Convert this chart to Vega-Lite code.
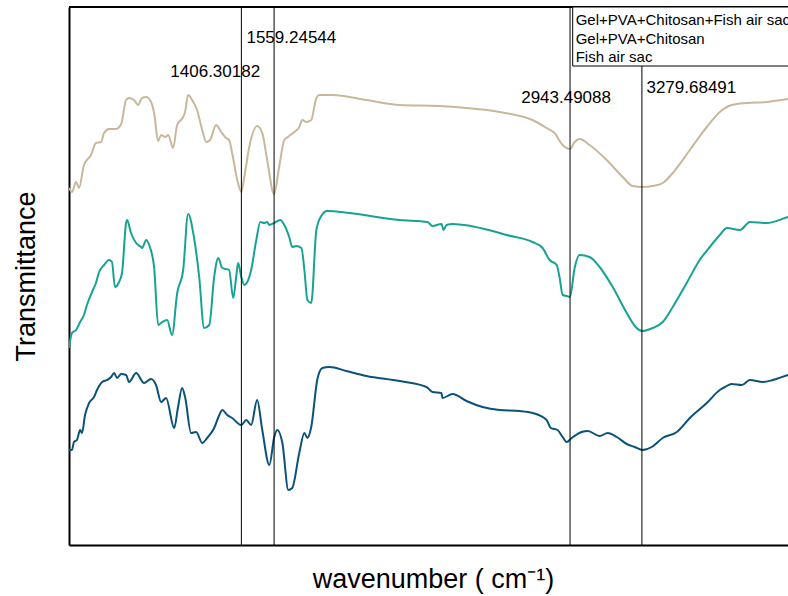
{
  "$schema": "https://vega.github.io/schema/vega-lite/v6.json",
  "width": 719,
  "height": 538,
  "autosize": "none",
  "padding": {"left": 69, "top": 7, "right": 0, "bottom": 51},
  "config": {"view": {"stroke": null}, "font": "Liberation Sans"},
  "datasets": {
    "spectra": [
      {"series":"Gel+PVA+Chitosan+Fish air sac","wn":600,"t":357},{"series":"Gel+PVA+Chitosan+Fish air sac","wn":614,"t":353},{"series":"Gel+PVA+Chitosan+Fish air sac","wn":633,"t":363},{"series":"Gel+PVA+Chitosan+Fish air sac","wn":647,"t":357},{"series":"Gel+PVA+Chitosan+Fish air sac","wn":670,"t":380},{"series":"Gel+PVA+Chitosan+Fish air sac","wn":703,"t":390},{"series":"Gel+PVA+Chitosan+Fish air sac","wn":726,"t":402},{"series":"Gel+PVA+Chitosan+Fish air sac","wn":750,"t":403},{"series":"Gel+PVA+Chitosan+Fish air sac","wn":764,"t":412},{"series":"Gel+PVA+Chitosan+Fish air sac","wn":787,"t":416},{"series":"Gel+PVA+Chitosan+Fish air sac","wn":820,"t":416},{"series":"Gel+PVA+Chitosan+Fish air sac","wn":844,"t":421},{"series":"Gel+PVA+Chitosan+Fish air sac","wn":867,"t":445},{"series":"Gel+PVA+Chitosan+Fish air sac","wn":881,"t":447},{"series":"Gel+PVA+Chitosan+Fish air sac","wn":904,"t":445},{"series":"Gel+PVA+Chitosan+Fish air sac","wn":923,"t":440},{"series":"Gel+PVA+Chitosan+Fish air sac","wn":942,"t":447},{"series":"Gel+PVA+Chitosan+Fish air sac","wn":961,"t":448},{"series":"Gel+PVA+Chitosan+Fish air sac","wn":984,"t":443},{"series":"Gel+PVA+Chitosan+Fish air sac","wn":998,"t":432},{"series":"Gel+PVA+Chitosan+Fish air sac","wn":1017,"t":404},{"series":"Gel+PVA+Chitosan+Fish air sac","wn":1031,"t":410},{"series":"Gel+PVA+Chitosan+Fish air sac","wn":1050,"t":408},{"series":"Gel+PVA+Chitosan+Fish air sac","wn":1064,"t":410},{"series":"Gel+PVA+Chitosan+Fish air sac","wn":1087,"t":397},{"series":"Gel+PVA+Chitosan+Fish air sac","wn":1106,"t":420},{"series":"Gel+PVA+Chitosan+Fish air sac","wn":1134,"t":428},{"series":"Gel+PVA+Chitosan+Fish air sac","wn":1143,"t":433},{"series":"Gel+PVA+Chitosan+Fish air sac","wn":1157,"t":450},{"series":"Gel+PVA+Chitosan+Fish air sac","wn":1176,"t":445},{"series":"Gel+PVA+Chitosan+Fish air sac","wn":1199,"t":435},{"series":"Gel+PVA+Chitosan+Fish air sac","wn":1223,"t":415},{"series":"Gel+PVA+Chitosan+Fish air sac","wn":1242,"t":403},{"series":"Gel+PVA+Chitosan+Fish air sac","wn":1260,"t":405},{"series":"Gel+PVA+Chitosan+Fish air sac","wn":1288,"t":420},{"series":"Gel+PVA+Chitosan+Fish air sac","wn":1312,"t":413},{"series":"Gel+PVA+Chitosan+Fish air sac","wn":1335,"t":407},{"series":"Gel+PVA+Chitosan+Fish air sac","wn":1349,"t":405},{"series":"Gel+PVA+Chitosan+Fish air sac","wn":1363,"t":392},{"series":"Gel+PVA+Chitosan+Fish air sac","wn":1387,"t":365},{"series":"Gel+PVA+Chitosan+Fish air sac","wn":1406,"t":353},{"series":"Gel+PVA+Chitosan+Fish air sac","wn":1420,"t":368},{"series":"Gel+PVA+Chitosan+Fish air sac","wn":1443,"t":398},{"series":"Gel+PVA+Chitosan+Fish air sac","wn":1480,"t":419},{"series":"Gel+PVA+Chitosan+Fish air sac","wn":1504,"t":412},{"series":"Gel+PVA+Chitosan+Fish air sac","wn":1527,"t":385},{"series":"Gel+PVA+Chitosan+Fish air sac","wn":1559,"t":351},{"series":"Gel+PVA+Chitosan+Fish air sac","wn":1583,"t":378},{"series":"Gel+PVA+Chitosan+Fish air sac","wn":1607,"t":405},{"series":"Gel+PVA+Chitosan+Fish air sac","wn":1630,"t":409},{"series":"Gel+PVA+Chitosan+Fish air sac","wn":1654,"t":413},{"series":"Gel+PVA+Chitosan+Fish air sac","wn":1677,"t":418},{"series":"Gel+PVA+Chitosan+Fish air sac","wn":1691,"t":425},{"series":"Gel+PVA+Chitosan+Fish air sac","wn":1710,"t":423},{"series":"Gel+PVA+Chitosan+Fish air sac","wn":1733,"t":425},{"series":"Gel+PVA+Chitosan+Fish air sac","wn":1757,"t":447},{"series":"Gel+PVA+Chitosan+Fish air sac","wn":1771,"t":450},{"series":"Gel+PVA+Chitosan+Fish air sac","wn":1832,"t":450},{"series":"Gel+PVA+Chitosan+Fish air sac","wn":1991,"t":445},{"series":"Gel+PVA+Chitosan+Fish air sac","wn":2146,"t":440},{"series":"Gel+PVA+Chitosan+Fish air sac","wn":2333,"t":439},{"series":"Gel+PVA+Chitosan+Fish air sac","wn":2459,"t":437},{"series":"Gel+PVA+Chitosan+Fish air sac","wn":2614,"t":433},{"series":"Gel+PVA+Chitosan+Fish air sac","wn":2768,"t":425},{"series":"Gel+PVA+Chitosan+Fish air sac","wn":2834,"t":417},{"series":"Gel+PVA+Chitosan+Fish air sac","wn":2871,"t":412},{"series":"Gel+PVA+Chitosan+Fish air sac","wn":2909,"t":400},{"series":"Gel+PVA+Chitosan+Fish air sac","wn":2943,"t":396},{"series":"Gel+PVA+Chitosan+Fish air sac","wn":2965,"t":403},{"series":"Gel+PVA+Chitosan+Fish air sac","wn":2988,"t":406},{"series":"Gel+PVA+Chitosan+Fish air sac","wn":3035,"t":400},{"series":"Gel+PVA+Chitosan+Fish air sac","wn":3115,"t":385},{"series":"Gel+PVA+Chitosan+Fish air sac","wn":3190,"t":368},{"series":"Gel+PVA+Chitosan+Fish air sac","wn":3236,"t":359},{"series":"Gel+PVA+Chitosan+Fish air sac","wn":3280,"t":358},{"series":"Gel+PVA+Chitosan+Fish air sac","wn":3330,"t":359},{"series":"Gel+PVA+Chitosan+Fish air sac","wn":3377,"t":362},{"series":"Gel+PVA+Chitosan+Fish air sac","wn":3424,"t":372},{"series":"Gel+PVA+Chitosan+Fish air sac","wn":3504,"t":395},{"series":"Gel+PVA+Chitosan+Fish air sac","wn":3583,"t":418},{"series":"Gel+PVA+Chitosan+Fish air sac","wn":3644,"t":433},{"series":"Gel+PVA+Chitosan+Fish air sac","wn":3700,"t":440},{"series":"Gel+PVA+Chitosan+Fish air sac","wn":3771,"t":442},{"series":"Gel+PVA+Chitosan+Fish air sac","wn":3864,"t":443},{"series":"Gel+PVA+Chitosan+Fish air sac","wn":3963,"t":446},{"series":"Gel+PVA+Chitosan+Fish air sac","wn":4000,"t":447},

      {"series":"Gel+PVA+Chitosan","wn":600,"t":197},{"series":"Gel+PVA+Chitosan","wn":614,"t":212},{"series":"Gel+PVA+Chitosan","wn":633,"t":215},{"series":"Gel+PVA+Chitosan","wn":652,"t":223},{"series":"Gel+PVA+Chitosan","wn":670,"t":230},{"series":"Gel+PVA+Chitosan","wn":684,"t":240},{"series":"Gel+PVA+Chitosan","wn":708,"t":253},{"series":"Gel+PVA+Chitosan","wn":726,"t":262},{"series":"Gel+PVA+Chitosan","wn":741,"t":273},{"series":"Gel+PVA+Chitosan","wn":764,"t":280},{"series":"Gel+PVA+Chitosan","wn":787,"t":285},{"series":"Gel+PVA+Chitosan","wn":801,"t":283},{"series":"Gel+PVA+Chitosan","wn":815,"t":258},{"series":"Gel+PVA+Chitosan","wn":834,"t":263},{"series":"Gel+PVA+Chitosan","wn":848,"t":272},{"series":"Gel+PVA+Chitosan","wn":867,"t":322},{"series":"Gel+PVA+Chitosan","wn":872,"t":325},{"series":"Gel+PVA+Chitosan","wn":890,"t":312},{"series":"Gel+PVA+Chitosan","wn":914,"t":302},{"series":"Gel+PVA+Chitosan","wn":937,"t":298},{"series":"Gel+PVA+Chitosan","wn":942,"t":297},{"series":"Gel+PVA+Chitosan","wn":961,"t":305},{"series":"Gel+PVA+Chitosan","wn":975,"t":300},{"series":"Gel+PVA+Chitosan","wn":998,"t":278},{"series":"Gel+PVA+Chitosan","wn":1017,"t":220},{"series":"Gel+PVA+Chitosan","wn":1036,"t":223},{"series":"Gel+PVA+Chitosan","wn":1059,"t":225},{"series":"Gel+PVA+Chitosan","wn":1082,"t":210},{"series":"Gel+PVA+Chitosan","wn":1106,"t":252},{"series":"Gel+PVA+Chitosan","wn":1134,"t":275},{"series":"Gel+PVA+Chitosan","wn":1157,"t":331},{"series":"Gel+PVA+Chitosan","wn":1185,"t":307},{"series":"Gel+PVA+Chitosan","wn":1209,"t":268},{"series":"Gel+PVA+Chitosan","wn":1232,"t":217},{"series":"Gel+PVA+Chitosan","wn":1256,"t":220},{"series":"Gel+PVA+Chitosan","wn":1279,"t":268},{"series":"Gel+PVA+Chitosan","wn":1298,"t":287},{"series":"Gel+PVA+Chitosan","wn":1317,"t":277},{"series":"Gel+PVA+Chitosan","wn":1349,"t":275},{"series":"Gel+PVA+Chitosan","wn":1368,"t":247},{"series":"Gel+PVA+Chitosan","wn":1382,"t":268},{"series":"Gel+PVA+Chitosan","wn":1391,"t":282},{"series":"Gel+PVA+Chitosan","wn":1406,"t":268},{"series":"Gel+PVA+Chitosan","wn":1420,"t":260},{"series":"Gel+PVA+Chitosan","wn":1434,"t":263},{"series":"Gel+PVA+Chitosan","wn":1452,"t":275},{"series":"Gel+PVA+Chitosan","wn":1476,"t":305},{"series":"Gel+PVA+Chitosan","wn":1495,"t":323},{"series":"Gel+PVA+Chitosan","wn":1513,"t":322},{"series":"Gel+PVA+Chitosan","wn":1527,"t":323},{"series":"Gel+PVA+Chitosan","wn":1537,"t":320},{"series":"Gel+PVA+Chitosan","wn":1560,"t":322},{"series":"Gel+PVA+Chitosan","wn":1588,"t":325},{"series":"Gel+PVA+Chitosan","wn":1607,"t":320},{"series":"Gel+PVA+Chitosan","wn":1630,"t":308},{"series":"Gel+PVA+Chitosan","wn":1644,"t":298},{"series":"Gel+PVA+Chitosan","wn":1663,"t":299},{"series":"Gel+PVA+Chitosan","wn":1687,"t":297},{"series":"Gel+PVA+Chitosan","wn":1701,"t":275},{"series":"Gel+PVA+Chitosan","wn":1715,"t":245},{"series":"Gel+PVA+Chitosan","wn":1733,"t":242},{"series":"Gel+PVA+Chitosan","wn":1757,"t":315},{"series":"Gel+PVA+Chitosan","wn":1780,"t":329},{"series":"Gel+PVA+Chitosan","wn":1808,"t":334},{"series":"Gel+PVA+Chitosan","wn":1911,"t":332},{"series":"Gel+PVA+Chitosan","wn":2146,"t":325},{"series":"Gel+PVA+Chitosan","wn":2277,"t":323},{"series":"Gel+PVA+Chitosan","wn":2300,"t":319},{"series":"Gel+PVA+Chitosan","wn":2342,"t":321},{"series":"Gel+PVA+Chitosan","wn":2352,"t":315},{"series":"Gel+PVA+Chitosan","wn":2366,"t":320},{"series":"Gel+PVA+Chitosan","wn":2394,"t":321},{"series":"Gel+PVA+Chitosan","wn":2581,"t":314},{"series":"Gel+PVA+Chitosan","wn":2647,"t":310},{"series":"Gel+PVA+Chitosan","wn":2768,"t":303},{"series":"Gel+PVA+Chitosan","wn":2815,"t":297},{"series":"Gel+PVA+Chitosan","wn":2848,"t":285},{"series":"Gel+PVA+Chitosan","wn":2881,"t":280},{"series":"Gel+PVA+Chitosan","wn":2895,"t":267},{"series":"Gel+PVA+Chitosan","wn":2909,"t":250},{"series":"Gel+PVA+Chitosan","wn":2928,"t":249},{"series":"Gel+PVA+Chitosan","wn":2943,"t":248},{"series":"Gel+PVA+Chitosan","wn":2965,"t":277},{"series":"Gel+PVA+Chitosan","wn":2988,"t":290},{"series":"Gel+PVA+Chitosan","wn":3035,"t":288},{"series":"Gel+PVA+Chitosan","wn":3082,"t":278},{"series":"Gel+PVA+Chitosan","wn":3143,"t":258},{"series":"Gel+PVA+Chitosan","wn":3209,"t":232},{"series":"Gel+PVA+Chitosan","wn":3255,"t":217},{"series":"Gel+PVA+Chitosan","wn":3280,"t":214},{"series":"Gel+PVA+Chitosan","wn":3330,"t":217},{"series":"Gel+PVA+Chitosan","wn":3377,"t":223},{"series":"Gel+PVA+Chitosan","wn":3424,"t":238},{"series":"Gel+PVA+Chitosan","wn":3489,"t":262},{"series":"Gel+PVA+Chitosan","wn":3550,"t":285},{"series":"Gel+PVA+Chitosan","wn":3597,"t":298},{"series":"Gel+PVA+Chitosan","wn":3644,"t":310},{"series":"Gel+PVA+Chitosan","wn":3677,"t":317},{"series":"Gel+PVA+Chitosan","wn":3738,"t":315},{"series":"Gel+PVA+Chitosan","wn":3785,"t":323},{"series":"Gel+PVA+Chitosan","wn":3864,"t":322},{"series":"Gel+PVA+Chitosan","wn":3963,"t":328},{"series":"Gel+PVA+Chitosan","wn":4000,"t":330},

      {"series":"Fish air sac","wn":600,"t":95},{"series":"Fish air sac","wn":614,"t":95},{"series":"Fish air sac","wn":623,"t":103},{"series":"Fish air sac","wn":637,"t":105},{"series":"Fish air sac","wn":652,"t":115},{"series":"Fish air sac","wn":661,"t":112},{"series":"Fish air sac","wn":675,"t":130},{"series":"Fish air sac","wn":694,"t":142},{"series":"Fish air sac","wn":717,"t":148},{"series":"Fish air sac","wn":731,"t":155},{"series":"Fish air sac","wn":755,"t":163},{"series":"Fish air sac","wn":778,"t":165},{"series":"Fish air sac","wn":797,"t":168},{"series":"Fish air sac","wn":811,"t":172},{"series":"Fish air sac","wn":825,"t":167},{"series":"Fish air sac","wn":844,"t":171},{"series":"Fish air sac","wn":867,"t":170},{"series":"Fish air sac","wn":881,"t":163},{"series":"Fish air sac","wn":914,"t":172},{"series":"Fish air sac","wn":951,"t":162},{"series":"Fish air sac","wn":984,"t":166},{"series":"Fish air sac","wn":1007,"t":160},{"series":"Fish air sac","wn":1031,"t":143},{"series":"Fish air sac","wn":1054,"t":147},{"series":"Fish air sac","wn":1092,"t":117},{"series":"Fish air sac","wn":1110,"t":138},{"series":"Fish air sac","wn":1129,"t":157},{"series":"Fish air sac","wn":1143,"t":148},{"series":"Fish air sac","wn":1171,"t":112},{"series":"Fish air sac","wn":1195,"t":113},{"series":"Fish air sac","wn":1223,"t":102},{"series":"Fish air sac","wn":1246,"t":107},{"series":"Fish air sac","wn":1279,"t":117},{"series":"Fish air sac","wn":1303,"t":130},{"series":"Fish air sac","wn":1317,"t":135},{"series":"Fish air sac","wn":1340,"t":130},{"series":"Fish air sac","wn":1363,"t":127},{"series":"Fish air sac","wn":1406,"t":120},{"series":"Fish air sac","wn":1429,"t":125},{"series":"Fish air sac","wn":1452,"t":120},{"series":"Fish air sac","wn":1480,"t":145},{"series":"Fish air sac","wn":1504,"t":115},{"series":"Fish air sac","wn":1537,"t":80},{"series":"Fish air sac","wn":1560,"t":108},{"series":"Fish air sac","wn":1574,"t":115},{"series":"Fish air sac","wn":1598,"t":102},{"series":"Fish air sac","wn":1626,"t":55},{"series":"Fish air sac","wn":1644,"t":57},{"series":"Fish air sac","wn":1677,"t":92},{"series":"Fish air sac","wn":1701,"t":112},{"series":"Fish air sac","wn":1715,"t":107},{"series":"Fish air sac","wn":1733,"t":118},{"series":"Fish air sac","wn":1761,"t":165},{"series":"Fish air sac","wn":1785,"t":177},{"series":"Fish air sac","wn":1818,"t":178},{"series":"Fish air sac","wn":1897,"t":174},{"series":"Fish air sac","wn":1991,"t":169},{"series":"Fish air sac","wn":2146,"t":164},{"series":"Fish air sac","wn":2272,"t":158},{"series":"Fish air sac","wn":2300,"t":153},{"series":"Fish air sac","wn":2342,"t":152},{"series":"Fish air sac","wn":2347,"t":147},{"series":"Fish air sac","wn":2394,"t":151},{"series":"Fish air sac","wn":2459,"t":144},{"series":"Fish air sac","wn":2534,"t":138},{"series":"Fish air sac","wn":2614,"t":135},{"series":"Fish air sac","wn":2708,"t":134},{"series":"Fish air sac","wn":2768,"t":132},{"series":"Fish air sac","wn":2834,"t":125},{"series":"Fish air sac","wn":2853,"t":117},{"series":"Fish air sac","wn":2885,"t":115},{"series":"Fish air sac","wn":2909,"t":108},{"series":"Fish air sac","wn":2928,"t":103},{"series":"Fish air sac","wn":2951,"t":107},{"series":"Fish air sac","wn":2998,"t":113},{"series":"Fish air sac","wn":3026,"t":114},{"series":"Fish air sac","wn":3082,"t":109},{"series":"Fish air sac","wn":3120,"t":112},{"series":"Fish air sac","wn":3162,"t":108},{"series":"Fish air sac","wn":3209,"t":101},{"series":"Fish air sac","wn":3246,"t":98},{"series":"Fish air sac","wn":3283,"t":95},{"series":"Fish air sac","wn":3326,"t":98},{"series":"Fish air sac","wn":3377,"t":107},{"series":"Fish air sac","wn":3443,"t":113},{"series":"Fish air sac","wn":3504,"t":127},{"series":"Fish air sac","wn":3583,"t":142},{"series":"Fish air sac","wn":3644,"t":155},{"series":"Fish air sac","wn":3668,"t":158},{"series":"Fish air sac","wn":3700,"t":161},{"series":"Fish air sac","wn":3747,"t":160},{"series":"Fish air sac","wn":3785,"t":165},{"series":"Fish air sac","wn":3846,"t":163},{"series":"Fish air sac","wn":3892,"t":165},{"series":"Fish air sac","wn":3963,"t":170},{"series":"Fish air sac","wn":4000,"t":172}
    ],
    "peaks": [
      {"wn": 1406.30182},
      {"wn": 1559.24544},
      {"wn": 2943.49088},
      {"wn": 3279.68491}
    ]
  },
  "layer": [
    {
      "data": {"name": "spectra"},
      "mark": {"type": "line", "strokeWidth": 2, "clip": true, "interpolate": "monotone"},
      "encoding": {
        "x": {
          "field": "wn", "type": "quantitative",
          "scale": {"domain": [600, 3963], "nice": false, "zero": false},
          "axis": {"title": "wavenumber ( cm⁻¹)", "titleFontSize": 27, "titleFontWeight": "normal", "titleColor": "#000000", "titlePadding": 21, "titleFont": "Liberation Sans", "titleX": 364, "labels": false, "ticks": false, "grid": false, "domain": true, "domainColor": "#000000", "domainWidth": 2}
        },
        "y": {
          "field": "t", "type": "quantitative",
          "scale": {"domain": [0, 538], "nice": false, "zero": false},
          "axis": {"title": "Transmittance", "titleFontSize": 27, "titleFontWeight": "normal", "titleColor": "#000000", "titlePadding": 29, "titleFont": "Liberation Sans", "labels": false, "ticks": false, "grid": false, "domain": true, "domainColor": "#000000", "domainWidth": 2}
        },
        "color": {
          "field": "series", "type": "nominal",
          "scale": {"domain": ["Gel+PVA+Chitosan+Fish air sac", "Gel+PVA+Chitosan", "Fish air sac"], "range": ["#c8b89b", "#17a392", "#0b5279"]},
          "legend": null
        },
        "order": {"field": "wn", "type": "quantitative"}
      }
    },
    {
      "data": {"name": "peaks"},
      "mark": {"type": "rule", "color": "#000000", "strokeWidth": 1},
      "encoding": {"x": {"field": "wn", "type": "quantitative"}}
    },
    {
      "data": {"values": [{}]},
      "mark": {"type": "rule", "color": "#000000", "strokeWidth": 2},
      "encoding": {"y": {"datum": 538}}
    },
    {
      "data": {"values": [{}]},
      "mark": {"type": "rect", "fill": "#ffffff", "stroke": "#000000", "strokeWidth": 1, "clip": true},
      "encoding": {"x": {"datum": 2956}, "x2": {"datum": 4100}, "y": {"datum": 479}, "y2": {"datum": 538}}
    },
    {
      "data": {"values": [{}]},
      "mark": {"type": "text", "text": ["Gel+PVA+Chitosan+Fish air sac", "Gel+PVA+Chitosan", "Fish air sac"], "lineHeight": 18.5, "fontSize": 15, "align": "left", "baseline": "alphabetic", "color": "#000000", "font": "Liberation Sans"},
      "encoding": {"x": {"datum": 2970}, "y": {"datum": 520}}
    },
    {
      "data": {"values": [{}]},
      "mark": {"type": "text", "text": "1406.30182", "fontSize": 17, "align": "center", "baseline": "alphabetic", "color": "#000000"},
      "encoding": {"x": {"datum": 1284}, "y": {"datum": 468}}
    },
    {
      "data": {"values": [{}]},
      "mark": {"type": "text", "text": "1559.24544", "fontSize": 17, "align": "center", "baseline": "alphabetic", "color": "#000000"},
      "encoding": {"x": {"datum": 1640}, "y": {"datum": 502}}
    },
    {
      "data": {"values": [{}]},
      "mark": {"type": "text", "text": "2943.49088", "fontSize": 17, "align": "center", "baseline": "alphabetic", "color": "#000000"},
      "encoding": {"x": {"datum": 2925}, "y": {"datum": 442}}
    },
    {
      "data": {"values": [{}]},
      "mark": {"type": "text", "text": "3279.68491", "fontSize": 17, "align": "center", "baseline": "alphabetic", "color": "#000000"},
      "encoding": {"x": {"datum": 3511}, "y": {"datum": 452}}
    }
  ]
}
